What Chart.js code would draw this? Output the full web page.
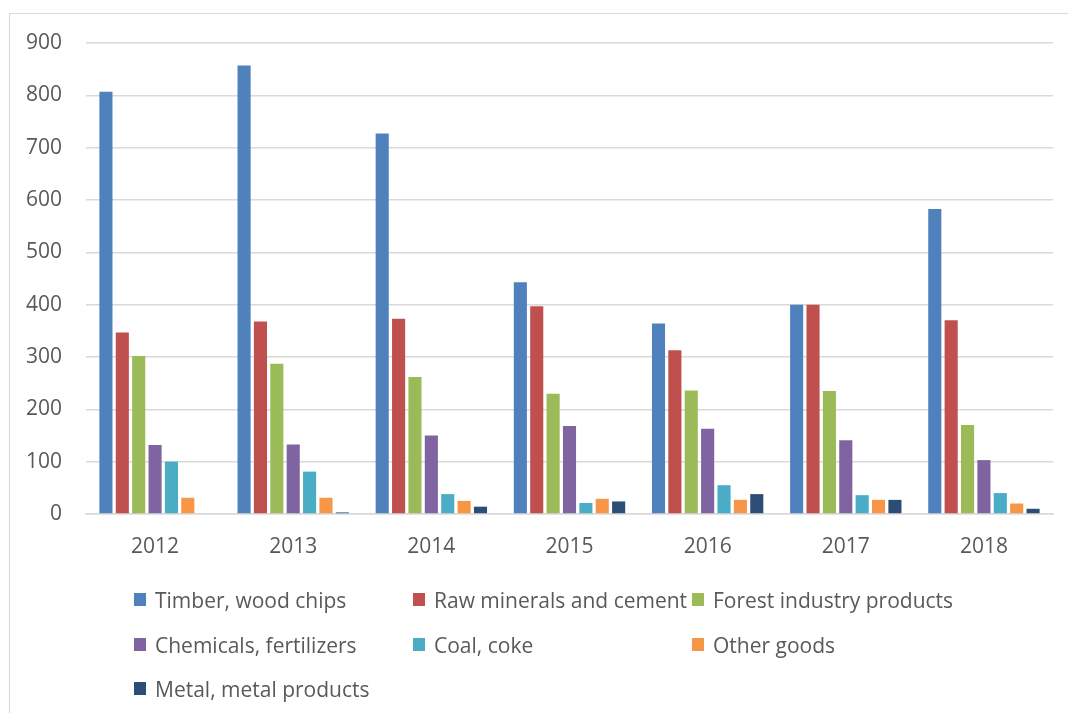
<!DOCTYPE html>
<html>
<head>
<meta charset="utf-8">
<script src="https://cdn.jsdelivr.net/npm/chart.js@4"></script>
<style>
  body { margin: 0; background: #fff; }
  #wrap { position: relative; width: 1068px; height: 713px; overflow: hidden; }
  #frame { position: absolute; left: 9px; top: 13px; right: -5px; bottom: -5px;
    border-left: 1px solid #D9D9D9; border-top: 1px solid #D9D9D9; }
  canvas { position: absolute; left: 0; top: 0; }
  .leg { position: absolute; font-family: "Open Sans", sans-serif; font-size: 21px; color: #595959;
    white-space: nowrap; line-height: 24px; }
  .leg i { position: absolute; left: -21px; top: 5px; width: 12px; height: 13px; }
</style>
</head>
<body>
<div id="wrap">
  <div id="frame"></div>
  <canvas id="grafico" width="1068" height="713"></canvas>
  <div id="leyenda"></div>
</div>
<script>
const years = ["2012", "2013", "2014", "2015", "2016", "2017", "2018"];
const timber = [807, 857, 727, 443, 364, 400, 583];
const rawMinerals = [347, 368, 373, 397, 313, 400, 370];
const forestProducts = [302, 287, 262, 230, 236, 235, 170];
const chemicals = [132, 133, 150, 168, 163, 141, 103];
const coal = [100, 81, 38, 21, 55, 36, 40];
const otherGoods = [31, 31, 25, 29, 27, 27, 20];
const metal = [0, 3, 14, 24, 38, 27, 10];
const yTicks = [0, 100, 200, 300, 400, 500, 600, 700, 800, 900];

const series = [
  { label: "Timber, wood chips", data: timber, color: "#4F81BD" },
  { label: "Raw minerals and cement", data: rawMinerals, color: "#C0504D" },
  { label: "Forest industry products", data: forestProducts, color: "#9BBB59" },
  { label: "Chemicals, fertilizers", data: chemicals, color: "#8064A2" },
  { label: "Coal, coke", data: coal, color: "#4BACC6" },
  { label: "Other goods", data: otherGoods, color: "#F79646" },
  { label: "Metal, metal products", data: metal, color: "#2C4D75" },
];

const ctx = document.getElementById("grafico");

new Chart(ctx, {
  type: "bar",
  data: {
    labels: years,
    datasets: series.map((s) => ({
      label: s.label,
      data: s.data,
      backgroundColor: s.color,
      borderWidth: 0,
      categoryPercentage: 0.83,
      barPercentage: 0.8,
    })),
  },
  options: {
    responsive: false,
    animation: false,
    layout: { padding: { left: 0, top: 43, right: 15, bottom: 0 } },
    plugins: {
      legend: { display: false },
      tooltip: { enabled: false },
    },
    scales: {
      x: {
        grid: { display: false },
        border: { color: "#D9D9D9", width: 1.5 },
        ticks: {
          color: "#595959",
          font: { family: "Open Sans", size: 21 },
          padding: 12,
        },
        afterFit: (scale) => {
          scale.height = 199;
        },
      },
      y: {
        min: 0,
        max: 900,
        border: { display: false },
        grid: { color: "#D9D9D9", lineWidth: 1.5, drawTicks: false },
        afterBuildTicks: (scale) => {
          scale.ticks = yTicks.map((v) => ({ value: v }));
        },
        ticks: {
          color: "#595959",
          font: { family: "Open Sans", size: 21 },
          padding: 24,
        },
        afterFit: (scale) => {
          scale.width = 86;
        },
      },
    },
  },
});

// leyenda en tres columnas como en el original
const leyenda = document.getElementById("leyenda");
const colX = [155, 434, 713];
const rowY = [588, 633, 677];
series.forEach((s, i) => {
  const d = document.createElement("div");
  d.className = "leg";
  d.style.left = colX[i % 3] + "px";
  d.style.top = rowY[Math.floor(i / 3)] + "px";
  d.innerHTML = '<i style="background:' + s.color + '"></i>' + s.label;
  leyenda.appendChild(d);
});
</script>
</body>
</html>
